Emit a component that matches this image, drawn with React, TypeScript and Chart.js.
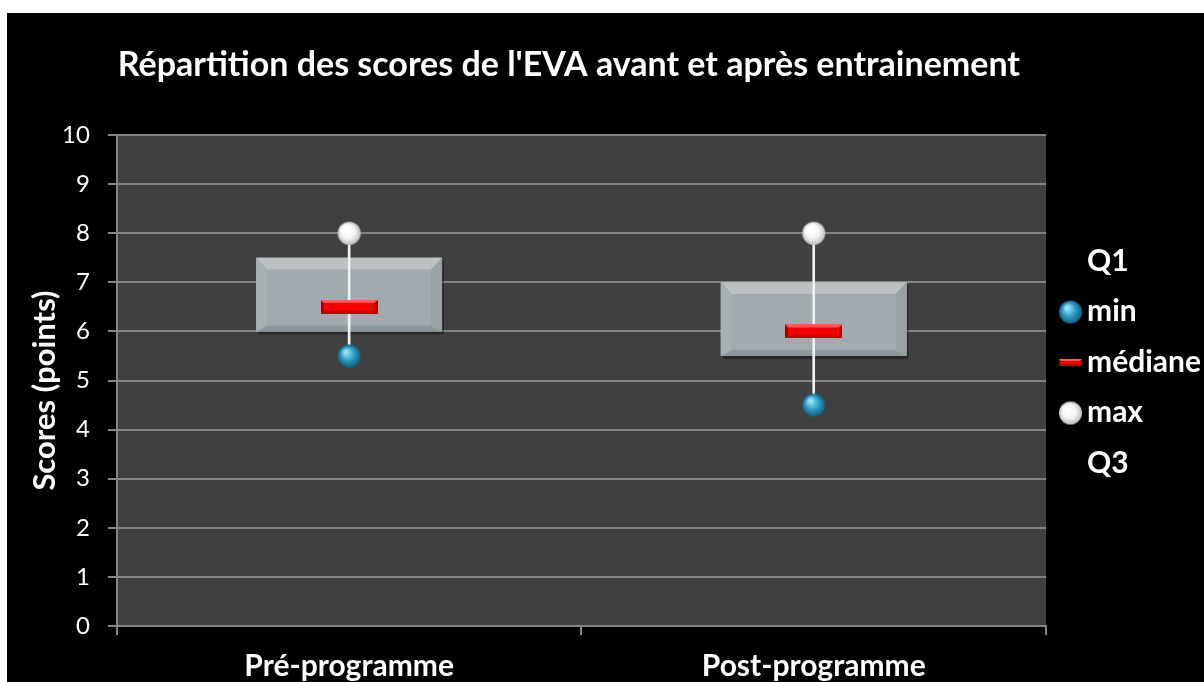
import React, { useEffect, useRef } from "react";
import { Chart, registerables } from "chart.js";

Chart.register(...registerables);

const chartTitle = "Répartition des scores de l'EVA avant et après entrainement";
const yAxisTitle = "Scores (points)";
const categories = ["Pré-programme", "Post-programme"];
const q1Values = [6, 5.5];
const q3Values = [7.5, 7];
const medianValues = [6.5, 6];
const minValues = [5.5, 4.5];
const maxValues = [8, 8];
const legendLabels = ["Q1", "min", "médiane", "max", "Q3"];
const yMin = 0;
const yMax = 10;
const yStep = 1;

const FONT = "Lato, 'Open Sans', sans-serif";
const GRID = "#858585";

function makeSphere(r: number, light: string, mid: string, dark: string): HTMLCanvasElement {
  const c = document.createElement("canvas");
  const s = Math.ceil(r * 2 + 2);
  c.width = s;
  c.height = s;
  const ctx = c.getContext("2d")!;
  const cx = s / 2;
  const cy = s / 2;
  const g = ctx.createRadialGradient(cx - r * 0.3, cy - r * 0.4, r * 0.1, cx, cy, r);
  g.addColorStop(0, light);
  g.addColorStop(0.55, mid);
  g.addColorStop(1, dark);
  ctx.fillStyle = g;
  ctx.beginPath();
  ctx.arc(cx, cy, r, 0, Math.PI * 2);
  ctx.fill();
  return c;
}

function makeBevelBar(w: number, h: number): HTMLCanvasElement {
  const c = document.createElement("canvas");
  c.width = w;
  c.height = h;
  const ctx = c.getContext("2d")!;
  ctx.fillStyle = "#a80000";
  ctx.fillRect(0, 0, w, h);
  const b = Math.max(1, Math.round(h * 0.22));
  ctx.fillStyle = "#ff5a5a";
  ctx.beginPath();
  ctx.moveTo(0, 0);
  ctx.lineTo(w, 0);
  ctx.lineTo(w - b, b);
  ctx.lineTo(b, b);
  ctx.closePath();
  ctx.fill();
  ctx.fillStyle = "#c40000";
  ctx.beginPath();
  ctx.moveTo(0, h);
  ctx.lineTo(w, h);
  ctx.lineTo(w - b, h - b);
  ctx.lineTo(b, h - b);
  ctx.closePath();
  ctx.fill();
  ctx.fillStyle = "#f20000";
  ctx.fillRect(b, b, w - 2 * b, h - 2 * b);
  return c;
}

export default function App() {
  const ref = useRef<HTMLCanvasElement | null>(null);

  useEffect(() => {
    if (!ref.current) return;
    const tealSphere = makeSphere(11.5, "#9be6fa", "#2c9cc4", "#17607a");
    const whiteSphere = makeSphere(11.5, "#ffffff", "#f6f6f6", "#bdbdbd");
    const medianMark = makeBevelBar(57, 14);
    const legendTeal = makeSphere(11.5, "#9be6fa", "#2c9cc4", "#17607a");
    const legendWhite = makeSphere(11.5, "#ffffff", "#f6f6f6", "#bdbdbd");
    const legendMedian = makeBevelBar(23, 7);
    const legendMarks: (HTMLCanvasElement | null)[] = [null, legendTeal, legendMedian, legendWhite, null];

    const BOX_INDEX = 4;

    const bgPlugin = {
      id: "plotBg",
      beforeDraw(chart: any) {
        const { ctx, chartArea } = chart;
        ctx.save();
        ctx.fillStyle = "#404040";
        ctx.fillRect(chartArea.left, chartArea.top, chartArea.right - chartArea.left, chartArea.bottom - chartArea.top);
        ctx.restore();
      },
    };

    const bevelPlugin = {
      id: "boxBevel",
      afterDatasetDraw(chart: any, args: any) {
        if (args.index !== BOX_INDEX) return;
        const ctx = chart.ctx;
        args.meta.data.forEach((el: any) => {
          const p = el.getProps(["x", "y", "base", "width"], true);
          const L = p.x - p.width / 2;
          const R = p.x + p.width / 2;
          const T = Math.min(p.y, p.base);
          const B = Math.max(p.y, p.base);
          const bt = 12;
          const bs = 11;
          const bb = 6;
          ctx.save();
          ctx.fillStyle = "rgba(0,0,0,0.35)";
          ctx.fillRect(L + 2, T + 3, R - L, B - T);
          ctx.fillStyle = "#9aa4a8";
          ctx.fillRect(L, T, R - L, B - T);
          const poly = (pts: number[][], color: string) => {
            ctx.fillStyle = color;
            ctx.beginPath();
            ctx.moveTo(pts[0][0], pts[0][1]);
            for (let i = 1; i < pts.length; i++) ctx.lineTo(pts[i][0], pts[i][1]);
            ctx.closePath();
            ctx.fill();
          };
          poly([[L, T], [R, T], [R - bs, T + bt], [L + bs, T + bt]], "#bcc0c0");
          poly([[L, B], [R, B], [R - bs, B - bb], [L + bs, B - bb]], "#8f999c");
          poly([[L, T], [L + bs, T + bt], [L + bs, B - bb], [L, B]], "#a7b0b3");
          poly([[R, T], [R - bs, T + bt], [R - bs, B - bb], [R, B]], "#98a2a5");
          ctx.fillStyle = "#a1aaae";
          ctx.fillRect(L + bs, T + bt, R - L - 2 * bs, B - T - bt - bb);
          ctx.restore();
        });
      },
    };

    const textPlugin = {
      id: "titleLegend",
      afterDraw(chart: any) {
        const { ctx, chartArea } = chart;
        const centerY = (chartArea.top + chartArea.bottom) / 2;
        ctx.save();
        ctx.fillStyle = "#ffffff";
        ctx.font = `bold 34px ${FONT}`;
        ctx.textAlign = "center";
        ctx.textBaseline = "alphabetic";
        ctx.fillText(chartTitle, (chartArea.left + chartArea.right) / 2 - 12.5, chartArea.top - 59);

        // y axis title
        ctx.save();
        ctx.font = `bold 31px ${FONT}`;
        ctx.translate(chartArea.left - 62, centerY + 10);
        ctx.rotate(-Math.PI / 2);
        ctx.fillText(yAxisTitle, 0, 0);
        ctx.restore();

        const textX = chartArea.right + 41;
        const markX = chartArea.right + 24.5;
        ctx.font = `bold 30px ${FONT}`;
        ctx.textAlign = "left";
        legendLabels.forEach((lab, i) => {
          const baseY = centerY - 9 + (i - 2) * 50.5;
          const mk = legendMarks[i];
          if (mk) {
            ctx.drawImage(mk, markX - mk.width / 2, baseY - 9 - mk.height / 2);
          }
          ctx.fillText(lab, textX, baseY);
        });
        ctx.restore();
      },
    };

    const chart = new Chart(ref.current, {
      type: "bar",
      data: {
        labels: categories,
        datasets: [
          {
            type: "line",
            label: "max",
            data: maxValues,
            showLine: false,
            pointStyle: whiteSphere as any,
            order: 0,
          },
          {
            type: "line",
            label: "min",
            data: minValues,
            showLine: false,
            pointStyle: tealSphere as any,
            order: 1,
          },
          {
            type: "line",
            label: "médiane",
            data: medianValues,
            showLine: false,
            pointStyle: medianMark as any,
            order: 2,
          },
          {
            type: "bar",
            label: "whisker",
            data: categories.map((_, i) => [minValues[i], maxValues[i]]) as any,
            backgroundColor: "#f0f0f0",
            barThickness: 2,
            grouped: false,
            order: 3,
          } as any,
          {
            type: "bar",
            label: "box",
            data: categories.map((_, i) => [q1Values[i], q3Values[i]]) as any,
            backgroundColor: "#a1aaae",
            barPercentage: 0.4,
            categoryPercentage: 1,
            grouped: false,
            order: 4,
          } as any,
        ],
      },
      options: {
        animation: false,
        responsive: false,
        events: [],
        layout: { padding: { top: 122, right: 158, left: 37, bottom: 1 } },
        plugins: {
          legend: { display: false },
          title: { display: false },
          tooltip: { enabled: false },
        },
        scales: {
          x: {
            offset: true,
            grid: {
              offset: true,
              drawOnChartArea: false,
              drawTicks: true,
              tickLength: 9,
              color: GRID,
              lineWidth: 2,
            },
            border: { color: GRID, width: 2 },
            ticks: {
              color: "#ffffff",
              font: { family: FONT, weight: "bold", size: 30 },
              padding: 13.5,
            },
          },
          y: {
            min: yMin,
            max: yMax,
            ticks: {
              stepSize: yStep,
              color: "#ffffff",
              font: { family: FONT, size: 24 },
              padding: 18,
            },
            grid: { color: GRID, lineWidth: 2, tickLength: 9 },
            border: { color: GRID, width: 2 },
          },
        },
      },
      plugins: [bgPlugin, bevelPlugin, textPlugin],
    });
    return () => chart.destroy();
  }, []);

  return (
    <div
      style={{
        position: "fixed",
        left: 7,
        top: 13,
        width: 1197,
        height: 669,
        background: "#000",
        overflow: "hidden",
      }}
    >
      <canvas ref={ref} width={1197} height={686} style={{ display: "block" }} />
    </div>
  );
}
